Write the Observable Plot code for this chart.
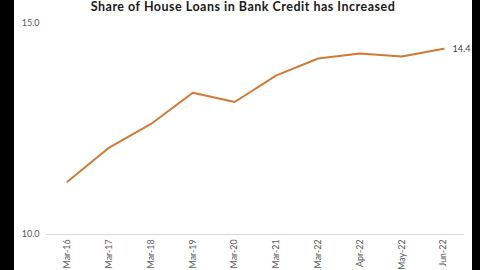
<!DOCTYPE html>
<html>
<head>
<meta charset="utf-8">
<script src="https://cdn.jsdelivr.net/npm/d3@7"></script>
<script src="https://cdn.jsdelivr.net/npm/@observablehq/plot@0.6"></script>
<style>
  html, body { margin: 0; padding: 0; background: #000; width: 480px; height: 270px; overflow: hidden; }
  #panel { position: absolute; left: 14px; top: 0; width: 458px; height: 270px; background: #fff; }
  #title { height: 12px; line-height: 14px; text-align: center; font-family: Lato, "Open Sans", sans-serif; font-weight: bold; font-size: 12.5px; letter-spacing: 0.5px; color: #1a1a1a; white-space: nowrap; overflow: visible; }
  svg { display: block; }
</style>
</head>
<body>
<div id="panel">
  <div id="title">Share of House Loans in Bank Credit has Increased</div>
  <div id="chart"></div>
</div>
<script>
const periods = ["Mar-16", "Mar-17", "Mar-18", "Mar-19", "Mar-20", "Mar-21", "Mar-22", "Apr-22", "May-22", "Jun-22"];
const shares = [11.25, 12.06, 12.62, 13.36, 13.14, 13.77, 14.17, 14.29, 14.22, 14.4];
const yTicks = [10, 15];

const data = periods.map((p, i) => ({period: p, share: shares[i]}));
const last = data[data.length - 1];

const chart = Plot.plot({
  width: 458,
  height: 258,
  marginTop: 11,
  marginBottom: 36,
  marginLeft: 32,
  marginRight: 8,
  style: {fontFamily: "Lato, 'Open Sans', sans-serif", fontSize: "9px", color: "#595959", background: "#fff"},
  x: {type: "point", domain: periods, padding: 0.5, round: false, label: null},
  y: {domain: [10, 15], label: null},
  marks: [
    Plot.ruleY([10], {stroke: "#d9d9d9", strokeWidth: 1}),
    Plot.axisY({ticks: yTicks, tickFormat: d => d.toFixed(1), tickSize: 0, tickPadding: 7, label: null, fill: "#595959"}),
    Plot.axisX({tickSize: 0, tickPadding: 5, tickRotate: -90, label: null, fill: "#595959", fontSize: 8.8}),
    Plot.line(data, {x: "period", y: "share", stroke: "#d07a35", strokeWidth: 2}),
    Plot.text([last], {x: "period", y: "share", text: d => d.share.toFixed(1), dx: 9, textAnchor: "start", fill: "#404040", fontSize: 9})
  ]
});
document.getElementById("chart").appendChild(chart);
</script>
</body>
</html>
